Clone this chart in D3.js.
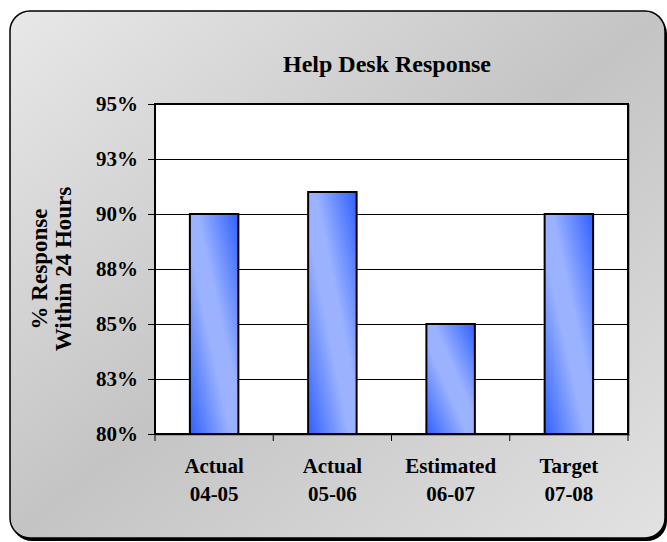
<!DOCTYPE html>
<html>
<head>
<meta charset="utf-8">
<script src="https://cdn.jsdelivr.net/npm/d3@7"></script>
<style>
  body { margin: 0; background: #fff; }
  text { font-family: "Liberation Serif", "Times New Roman", serif; font-weight: bold; fill: #000; }
</style>
</head>
<body>
<div id="chart"></div>
<script>
// data
var labelTop = ["Actual", "Actual", "Estimated", "Target"];
var labelBottom = ["04-05", "05-06", "06-07", "07-08"];
var values = [90, 91, 85, 90];
var yTicks = [80, 82.5, 85, 87.5, 90, 92.5, 95];

function main() {
	var width = 667,
		height = 542;
	var plot = { left: 155, top: 104, right: 628, bottom: 434 };

	var svg = d3.select("#chart").append("svg")
		.attr("width", width)
		.attr("height", height);

	var defs = svg.append("defs");

	// background gradient of the frame
	var bg = defs.append("linearGradient")
		.attr("id", "bgGrad")
		.attr("x1", 0).attr("y1", 0)
		.attr("x2", 1).attr("y2", 1);
	bg.append("stop").attr("offset", "0%").attr("stop-color", "#e8e8e8");
	bg.append("stop").attr("offset", "50%").attr("stop-color", "#c4c4c4");
	bg.append("stop").attr("offset", "100%").attr("stop-color", "#e2e2e2");

	// bar gradient (diagonal)
	var bar = defs.append("linearGradient")
		.attr("id", "barGrad")
		.attr("x1", 0).attr("y1", 1)
		.attr("x2", 1).attr("y2", 0);
	bar.append("stop").attr("offset", "0%").attr("stop-color", "#3060ff");
	bar.append("stop").attr("offset", "42%").attr("stop-color", "#9ab2ff");
	bar.append("stop").attr("offset", "58%").attr("stop-color", "#9ab2ff");
	bar.append("stop").attr("offset", "100%").attr("stop-color", "#3060ff");

	// frame with shadow
	svg.append("rect")
		.attr("x", 12).attr("y", 14)
		.attr("width", 655).attr("height", 527)
		.attr("rx", 20).attr("ry", 20)
		.attr("fill", "#000");
	svg.append("rect")
		.attr("x", 10).attr("y", 11)
		.attr("width", 655).attr("height", 527)
		.attr("rx", 20).attr("ry", 20)
		.attr("fill", "url(#bgGrad)")
		.attr("stroke", "#000")
		.attr("stroke-width", 1.5);

	// title
	svg.append("text")
		.attr("x", 387).attr("y", 72)
		.attr("text-anchor", "middle")
		.style("font-size", "24px")
		.text("Help Desk Response");

	var x = d3.scaleBand()
		.domain(d3.range(values.length))
		.range([plot.left, plot.right])
		.paddingInner(0.59)
		.paddingOuter(0.295);

	var y = d3.scaleLinear()
		.domain([80, 95])
		.range([plot.bottom, plot.top]);

	// plot area
	svg.append("rect")
		.attr("x", plot.left + 1).attr("y", plot.top + 1)
		.attr("width", plot.right - plot.left).attr("height", plot.bottom - plot.top)
		.attr("fill", "none")
		.attr("stroke", "#999")
		.attr("stroke-width", 2);
	svg.append("rect")
		.attr("x", plot.left).attr("y", plot.top)
		.attr("width", plot.right - plot.left).attr("height", plot.bottom - plot.top)
		.attr("fill", "#fff");

	// gridlines
	svg.append("g").selectAll("line")
		.data(yTicks.slice(1, -1))
		.enter().append("line")
		.attr("x1", plot.left).attr("x2", plot.right)
		.attr("y1", function(d){ return Math.round(y(d)) + 0.5; })
		.attr("y2", function(d){ return Math.round(y(d)) + 0.5; })
		.attr("stroke", "#000")
		.attr("stroke-width", 1);

	// bars
	svg.append("g").selectAll("rect")
		.data(values)
		.enter().append("rect")
		.attr("x", function(d, i){ return x(i); })
		.attr("y", function(d){ return y(d); })
		.attr("width", x.bandwidth())
		.attr("height", function(d){ return y(80) - y(d); })
		.attr("fill", "url(#barGrad)")
		.attr("stroke", "#000")
		.attr("stroke-width", 2);

	// plot border
	svg.append("rect")
		.attr("x", plot.left).attr("y", plot.top)
		.attr("width", plot.right - plot.left).attr("height", plot.bottom - plot.top)
		.attr("fill", "none")
		.attr("stroke", "#000")
		.attr("stroke-width", 2);

	// y axis
	var yAxis = d3.axisLeft(y)
		.tickValues(yTicks)
		.tickSize(7)
		.tickPadding(10)
		.tickFormat(function(d){ return Math.round(d) + "%"; });
	var gy = svg.append("g")
		.attr("transform", "translate(" + plot.left + ",0)")
		.call(yAxis);
	gy.select(".domain").remove();
	gy.selectAll(".tick line").attr("stroke", "#000");
	gy.selectAll(".tick text")
		.style("font-family", "'Liberation Serif', serif")
		.style("font-weight", "bold")
		.style("font-size", "21px");

	// x axis ticks at category boundaries
	var boundaries = d3.range(values.length + 1).map(function(i){
		return plot.left + i * (plot.right - plot.left) / values.length;
	});
	svg.append("g").selectAll("line")
		.data(boundaries)
		.enter().append("line")
		.attr("x1", function(d){ return d; }).attr("x2", function(d){ return d; })
		.attr("y1", plot.bottom).attr("y2", plot.bottom + 7)
		.attr("stroke", "#000");

	// x labels
	var xl = svg.append("g").selectAll("text")
		.data(values)
		.enter().append("text")
		.attr("text-anchor", "middle")
		.style("font-size", "21px")
		.attr("x", function(d, i){ return x(i) + x.bandwidth() / 2; });
	xl.append("tspan")
		.attr("x", function(d, i){ return x(i) + x.bandwidth() / 2; })
		.attr("y", 473)
		.text(function(d, i){ return labelTop[i]; });
	xl.append("tspan")
		.attr("x", function(d, i){ return x(i) + x.bandwidth() / 2; })
		.attr("y", 501)
		.text(function(d, i){ return labelBottom[i]; });

	// y axis title
	var yt = svg.append("text")
		.attr("transform", "translate(0," + ((plot.top + plot.bottom) / 2) + ") rotate(-90)")
		.attr("text-anchor", "middle")
		.style("font-size", "23px");
	yt.append("tspan").attr("x", 0).attr("y", 47).text("% Response");
	yt.append("tspan").attr("x", 0).attr("y", 71).text("Within 24 Hours");
}

main();
</script>
</body>
</html>
